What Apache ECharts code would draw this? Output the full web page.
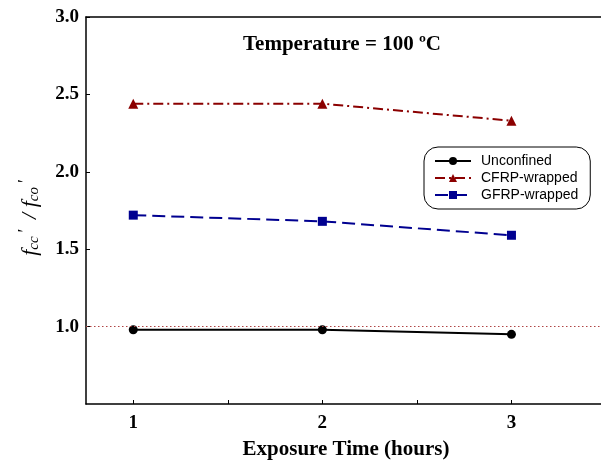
<!DOCTYPE html>
<html>
<head>
<meta charset="utf-8">
<script src="https://cdn.jsdelivr.net/npm/echarts@6/dist/echarts.min.js"></script>
<style>html,body{margin:0;padding:0;background:#fff}#c{width:601px;height:460px}</style>
</head>
<body>
<div id="c"></div>
<script>
const hours = [1, 2, 3];
const unconfined = [0.98, 0.98, 0.95];
const cfrp = [2.44, 2.44, 2.33];
const gfrp = [1.72, 1.68, 1.59];
const xLabels = [1, 2, 3];
const xTicks = [1, 1.5, 2, 2.5, 3];
const refLevel = 1.0;

const pts = (ys) => hours.map((h, i) => [h, ys[i]]);
const serif = '"Liberation Serif","DejaVu Serif",serif';
const sans = '"Liberation Sans",Arial,sans-serif';

const chart = echarts.init(document.getElementById('c'), null, {renderer: 'canvas'});
chart.setOption({
  animation: false,
  backgroundColor: '#fff',
  grid: {left: 86, top: 17, right: -5, bottom: 56, containLabel: false, outerBoundsMode: 'none'},
  graphic: [{
    type: 'text', x: 342, y: 45,
    style: {text: 'Temperature = 100 ºC', font: 'bold 21px ' + serif, fill: '#000',
            textAlign: 'center', textVerticalAlign: 'middle'}
  }],
  legend: {
    orient: 'vertical', left: 424, top: 147,
    padding: [7, 12, 7, 10], itemGap: 3, itemWidth: 36, itemHeight: 10,
    borderColor: '#000', borderWidth: 1, borderRadius: 14,
    textStyle: {fontFamily: sans, fontSize: 14, color: '#000', padding: [0, 0, 0, 5]},
    data: ['Unconfined', 'CFRP-wrapped', 'GFRP-wrapped']
  },
  xAxis: [{
    type: 'value', min: 0.75, max: 3.5, interval: 0.25,
    name: 'Exposure Time (hours)', nameLocation: 'middle', nameGap: 35,
    nameTextStyle: {fontFamily: serif, fontWeight: 'bold', fontSize: 21, color: '#000'},
    axisLine: {show: true, lineStyle: {color: '#000', width: 1.5}},
    axisTick: {show: true, inside: true, length: 4, customValues: xTicks, lineStyle: {color: '#000'}},
    axisLabel: {customValues: xLabels, fontFamily: serif, fontWeight: 'bold', fontSize: 19, color: '#000', margin: 10},
    splitLine: {show: false}
  }, {
    type: 'value', position: 'top', min: 0.75, max: 3.5, interval: 0.25,
    axisLine: {show: true, onZero: false, lineStyle: {color: '#000', width: 1.5}},
    axisTick: {show: false}, axisLabel: {show: false}, splitLine: {show: false}
  }],
  yAxis: {
    type: 'value', min: 0.5, max: 3.0, interval: 0.5,
    name: '{i|f}{s|cc}{p|′}{i| / f}{s|co}{p|′}',
    nameLocation: 'middle', nameGap: 43, nameRotate: 90,
    nameTextStyle: {
      padding: [0, 10, 0, 0],
      rich: {
        i: {fontFamily: serif, fontStyle: 'italic', fontSize: 22, color: '#000'},
        s: {fontFamily: serif, fontStyle: 'italic', fontSize: 15, color: '#000', padding: [9, 0, 0, 0]},
        p: {fontFamily: serif, fontSize: 18, color: '#000', padding: [0, 4, 8, 4]}
      }
    },
    axisLine: {show: true, lineStyle: {color: '#000', width: 1.5}},
    axisTick: {show: true, inside: true, length: 4, lineStyle: {color: '#000'}},
    axisLabel: {showMinLabel: false, formatter: v => v.toFixed(1),
                fontFamily: serif, fontWeight: 'bold', fontSize: 19, color: '#000', margin: 7},
    splitLine: {show: false}
  },
  series: [
    {
      name: 'Unconfined', type: 'line', data: pts(unconfined),
      symbol: 'circle', symbolSize: 9, itemStyle: {color: '#000'},
      lineStyle: {color: '#000', width: 2}, z: 3,
      markLine: {
        silent: true, symbol: 'none', label: {show: false},
        lineStyle: {color: '#b04545', type: [1.5, 2.5], width: 1.2},
        emphasis: {disabled: true},
        data: [{yAxis: refLevel}]
      }
    },
    {
      name: 'CFRP-wrapped', type: 'line', data: pts(cfrp),
      symbol: 'triangle', symbolSize: 10, itemStyle: {color: '#8b0000'},
      lineStyle: {color: '#8b0000', width: 2, type: [10, 4, 2, 4]}
    },
    {
      name: 'GFRP-wrapped', type: 'line', data: pts(gfrp),
      symbol: 'rect', symbolSize: 9, itemStyle: {color: '#000090'},
      lineStyle: {color: '#000090', width: 2, type: [13, 6]}
    }
  ]
});
</script>
</body>
</html>
